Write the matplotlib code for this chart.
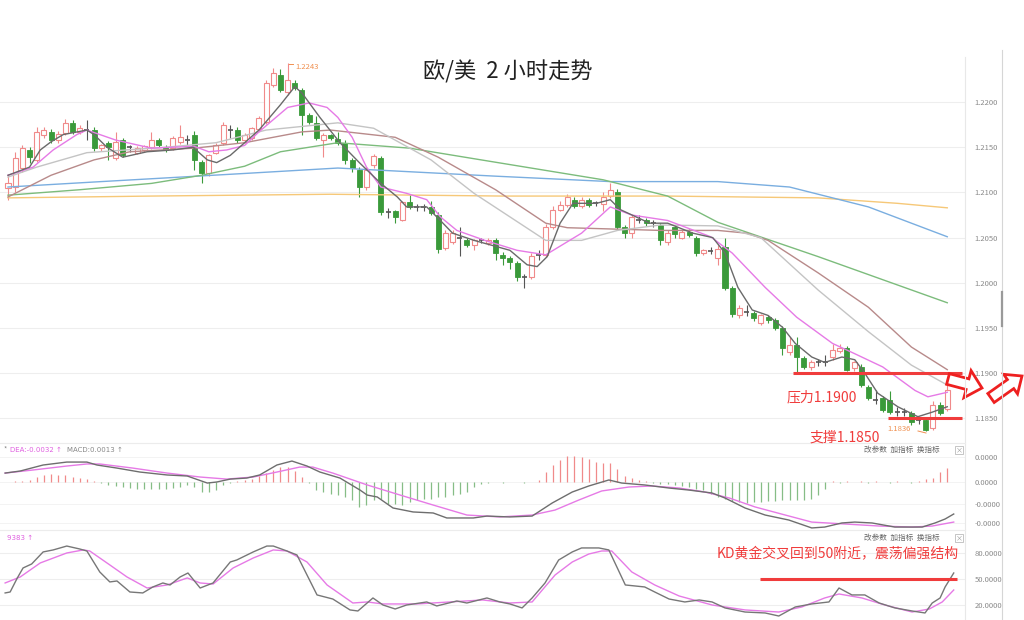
import matplotlib
matplotlib.use('Agg')
import matplotlib.pyplot as plt
import numpy as np
from matplotlib.patches import FancyArrow, Rectangle

plt.rcParams['font.family'] = ['Noto Sans CJK SC', 'DejaVu Sans']

# ---- candles (2h bars, left to right) ----
opens = [
    1.2105, 1.2106, 1.2127, 1.2147, 1.2136, 1.2164, 1.2167, 1.2158, 1.2166, 1.2177,
    1.2167, 1.2169, 1.2169, 1.2149, 1.2155, 1.2138, 1.2158, 1.2150, 1.2144, 1.2147,
    1.2150, 1.2158, 1.2150, 1.2149, 1.2156, 1.2158, 1.2163, 1.2134, 1.2121, 1.2144,
    1.2155, 1.2169, 1.2169, 1.2158, 1.2160, 1.2170, 1.2178, 1.2219, 1.2230, 1.2211,
    1.2221, 1.2213, 1.2186, 1.2177, 1.2158, 1.2163, 1.2159, 1.2155, 1.2136, 1.2125,
    1.2106, 1.2130, 1.2138, 1.2078, 1.2079, 1.2070, 1.2089, 1.2084, 1.2083, 1.2084,
    1.2075, 1.2039, 1.2045, 1.2050, 1.2047, 1.2042, 1.2047, 1.2044, 1.2047, 1.2031,
    1.2027, 1.2022, 1.2006, 1.2006, 1.2030, 1.2031, 1.2062, 1.2081, 1.2086, 1.2092,
    1.2085, 1.2092, 1.2088, 1.2087, 1.2096, 1.2101, 1.2062, 1.2055, 1.2070, 1.2069,
    1.2066, 1.2064, 1.2045, 1.2062, 1.2050, 1.2056, 1.2050, 1.2033, 1.2034, 1.2028,
    1.2040, 1.1994, 1.1964, 1.1968, 1.1967, 1.1956, 1.1962, 1.1959, 1.1950, 1.1923,
    1.1931, 1.1917, 1.1907, 1.1912, 1.1912, 1.1918, 1.1925, 1.1928, 1.1906, 1.1907,
    1.1885, 1.1870, 1.1873, 1.1870, 1.1857, 1.1857, 1.1856, 1.1848, 1.1848, 1.1839,
    1.1865, 1.1861]
highs = [
    1.2120, 1.2145, 1.2153, 1.2150, 1.2172, 1.2172, 1.2170, 1.2168, 1.2181, 1.2180,
    1.2175, 1.2180, 1.2172, 1.2154, 1.2157, 1.2167, 1.2160, 1.2153, 1.2151, 1.2153,
    1.2167, 1.2160, 1.2152, 1.2162, 1.2175, 1.2163, 1.2168, 1.2136, 1.2143, 1.2155,
    1.2178, 1.2175, 1.2172, 1.2166, 1.2172, 1.2185, 1.2224, 1.2238, 1.2236, 1.2243,
    1.2224, 1.2216, 1.2188, 1.2185, 1.2166, 1.2165, 1.2167, 1.2158, 1.2138, 1.2128,
    1.2128, 1.2143, 1.2140, 1.2083, 1.2081, 1.2091, 1.2098, 1.2087, 1.2087, 1.2090,
    1.2078, 1.2058, 1.2058, 1.2062, 1.2050, 1.2049, 1.2050, 1.2050, 1.2050, 1.2034,
    1.2030, 1.2024, 1.2010, 1.2033, 1.2036, 1.2065, 1.2085, 1.2090, 1.2098, 1.2095,
    1.2095, 1.2094, 1.2091, 1.2100, 1.2111, 1.2104, 1.2064, 1.2075, 1.2075, 1.2072,
    1.2069, 1.2066, 1.2058, 1.2064, 1.2059, 1.2060, 1.2052, 1.2038, 1.2040, 1.2042,
    1.2050, 1.1996, 1.1975, 1.1975, 1.1969, 1.1966, 1.1964, 1.1961, 1.1952, 1.1940,
    1.1940, 1.1919, 1.1915, 1.1916, 1.1920, 1.1932, 1.1932, 1.1930, 1.1914, 1.1910,
    1.1887, 1.1882, 1.1875, 1.1880, 1.1863, 1.1862, 1.1858, 1.1852, 1.1850, 1.1869,
    1.1868, 1.1895]
lows = [
    1.2092, 1.2100, 1.2123, 1.2133, 1.2134, 1.2160, 1.2155, 1.2155, 1.2164, 1.2165,
    1.2165, 1.2158, 1.2146, 1.2146, 1.2136, 1.2136, 1.2139, 1.2145, 1.2142, 1.2145,
    1.2148, 1.2150, 1.2145, 1.2147, 1.2154, 1.2153, 1.2125, 1.2110, 1.2118, 1.2142,
    1.2152, 1.2160, 1.2155, 1.2155, 1.2158, 1.2168, 1.2176, 1.2217, 1.2211, 1.2208,
    1.2213, 1.2163, 1.2176, 1.2158, 1.2139, 1.2158, 1.2152, 1.2132, 1.2123, 1.2095,
    1.2103, 1.2127, 1.2075, 1.2072, 1.2066, 1.2068, 1.2082, 1.2080, 1.2080, 1.2075,
    1.2033, 1.2036, 1.2043, 1.2030, 1.2040, 1.2036, 1.2044, 1.2042, 1.2025, 1.2020,
    1.2015, 1.2002, 1.1994, 1.2004, 1.2025, 1.2029, 1.2060, 1.2079, 1.2084, 1.2083,
    1.2083, 1.2084, 1.2085, 1.2080, 1.2094, 1.2060, 1.2050, 1.2050, 1.2066, 1.2063,
    1.2062, 1.2042, 1.2042, 1.2050, 1.2048, 1.2051, 1.2030, 1.2031, 1.2032, 1.2020,
    1.1992, 1.1962, 1.1961, 1.1963, 1.1958, 1.1953, 1.1956, 1.1948, 1.1920, 1.1920,
    1.1900, 1.1905, 1.1904, 1.1908, 1.1908, 1.1915, 1.1922, 1.1902, 1.1903, 1.1885,
    1.1870, 1.1866, 1.1857, 1.1855, 1.1853, 1.1853, 1.1843, 1.1844, 1.1836, 1.1837,
    1.1854, 1.1858]
closes = [
    1.2110, 1.2138, 1.2149, 1.2139, 1.2167, 1.2169, 1.2158, 1.2165, 1.2177, 1.2167,
    1.2171, 1.2170, 1.2149, 1.2152, 1.2150, 1.2156, 1.2141, 1.2150, 1.2149, 1.2151,
    1.2158, 1.2152, 1.2147, 1.2160, 1.2161, 1.2158, 1.2136, 1.2121, 1.2141, 1.2152,
    1.2175, 1.2169, 1.2158, 1.2163, 1.2171, 1.2182, 1.2221, 1.2232, 1.2213, 1.2224,
    1.2215, 1.2186, 1.2178, 1.2160, 1.2163, 1.2160, 1.2155, 1.2136, 1.2127, 1.2106,
    1.2125, 1.2140, 1.2078, 1.2078, 1.2073, 1.2089, 1.2084, 1.2084, 1.2085, 1.2077,
    1.2038, 1.2055, 1.2055, 1.2050, 1.2042, 1.2047, 1.2047, 1.2047, 1.2033, 1.2028,
    1.2023, 1.2006, 1.2006, 1.2030, 1.2031, 1.2062, 1.2081, 1.2086, 1.2095, 1.2085,
    1.2092, 1.2086, 1.2088, 1.2095, 1.2103, 1.2062, 1.2055, 1.2073, 1.2070, 1.2066,
    1.2066, 1.2047, 1.2055, 1.2054, 1.2056, 1.2053, 1.2033, 1.2036, 1.2036, 1.2038,
    1.1994, 1.1966, 1.1972, 1.1968, 1.1961, 1.1964, 1.1959, 1.1950, 1.1928, 1.1931,
    1.1918, 1.1907, 1.1912, 1.1912, 1.1913, 1.1926, 1.1928, 1.1904, 1.1912, 1.1887,
    1.1873, 1.1871, 1.1859, 1.1857, 1.1857, 1.1857, 1.1846, 1.1848, 1.1837, 1.1865,
    1.1856, 1.1881]

# ---- moving averages (bar index, price) ----
ma5_idx = [0, 3, 4.5, 6, 7.7, 11, 12, 13.8, 16, 19.4, 23, 25.8, 27.8, 29.1, 31, 33, 35, 38, 40, 41,
           43.5, 46.3, 49, 52, 54.3, 55.6, 58.4, 60.3, 62, 65, 70, 72.4, 73.8, 75.2, 77, 78.8, 82.1,
           84, 85.4, 89.5, 92, 95.5, 98.3, 100, 101.8, 103.8, 106, 108, 109.8, 112.1, 113.9, 116.3,
           118.1, 119.5, 121.3, 124.1, 126.9, 128.9, 131]
ma5_val = [1.2119, 1.2128, 1.2147, 1.2156, 1.2164, 1.2169, 1.2164, 1.2150, 1.2139, 1.2145,
           1.2147, 1.2150, 1.2136, 1.2133, 1.2141, 1.2155, 1.2169, 1.2197, 1.2217, 1.2210,
           1.2183, 1.2155, 1.2133, 1.2110, 1.2095, 1.2084, 1.2084, 1.2069, 1.2055, 1.2047,
           1.2036, 1.2020, 1.2018, 1.2029, 1.2066, 1.2088, 1.2088, 1.2092, 1.2081, 1.2066,
           1.2066, 1.2055, 1.2050, 1.2033, 1.1995, 1.1970, 1.1964, 1.1951, 1.1933, 1.1918,
           1.1912, 1.1918, 1.1915, 1.1900, 1.1878, 1.1863, 1.1852, 1.1857, 1.1863]
ma10_idx = [0, 3.5, 6.3, 9.6, 11, 15, 20, 26, 28, 30.5, 33, 35, 39, 42, 44.5, 46, 48, 50, 52, 55.6,
            58.4, 60.3, 62.6, 66.5, 71, 75, 80, 84, 87, 92, 98, 101, 105.6, 110, 115, 118, 122,
            126.5, 128.3, 131]
ma10_val = [1.2119, 1.2128, 1.2147, 1.2164, 1.2169, 1.2158, 1.2149, 1.2151, 1.2145, 1.2147,
            1.2152, 1.2167, 1.2194, 1.2199, 1.2194, 1.2183, 1.2161, 1.2128, 1.2106, 1.2099,
            1.2092, 1.2073, 1.2058, 1.2047, 1.2036, 1.2031, 1.2055, 1.2084, 1.2075, 1.2069,
            1.2051, 1.2033, 1.1995, 1.1962, 1.1933, 1.1922, 1.1907, 1.1881, 1.1874, 1.1879]
ma20_idx = [0, 4, 11, 22, 29, 36, 46, 51, 59, 65, 70, 75, 80, 85, 91, 99, 105, 113, 120, 126, 131]
ma20_val = [1.2117, 1.2128, 1.2144, 1.2150, 1.2155, 1.2169, 1.2177, 1.2171, 1.2136, 1.2099,
            1.2073, 1.2047, 1.2047, 1.2058, 1.2064, 1.2063, 1.2050, 1.1992, 1.1946, 1.1909, 1.1887]
ma30_idx = [0, 6, 12, 17, 26, 33, 41, 45, 54, 60, 68, 75, 78, 91, 99, 103, 106, 113, 120, 126, 131]
ma30_val = [1.2095, 1.2119, 1.2136, 1.2145, 1.2149, 1.2155, 1.2167, 1.2169, 1.2161, 1.2139,
            1.2103, 1.2066, 1.2061, 1.2058, 1.2058, 1.2055, 1.2047, 1.2011, 1.1973, 1.1929, 1.1904]
ma60_idx = [0, 10, 20, 27, 33, 38, 46, 56, 66, 83, 92, 99, 113, 131]
ma60_val = [1.2097, 1.2103, 1.2110, 1.2119, 1.2129, 1.2145, 1.2155, 1.2149, 1.2136, 1.2114,
            1.2096, 1.2067, 1.2029, 1.1978]
ma120_idx = [0, 13, 33, 46, 68, 84, 99, 109, 120, 131]
ma120_val = [1.2106, 1.2112, 1.2121, 1.2127, 1.2118, 1.2112, 1.2112, 1.2106, 1.2084, 1.2051]
ma250_idx = [0, 20, 45, 69, 92, 113, 124, 131]
ma250_val = [1.2094, 1.2096, 1.2098, 1.2096, 1.2096, 1.2094, 1.2088, 1.2083]

# ---- MACD (values in units of 0.0001) ----
macd_hist = [
    0.3, 0.5, 0.8, 1.3, 3.9, 5.7, 6.5, 5.7, 5.2, 3.9,
    3.4, 2.6, 0.5, -0.5, -2.6, -3.1, -3.9, -4.7, -5.2, -5.2,
    -5.2, -5.2, -5.2, -4.7, -3.9, -2.6, -3.9, -7.8, -7.8, -6.5,
    -2.0, -0.5, 0.5, 1.3, 2.6, 4.7, 7.0, 9.5, 11.7, 11.5,
    9.0, 4.0, -0.5, -6.5, -8.0, -9.0, -10.4, -11.7, -14.3, -19.5,
    -18.0, -14.3, -13.0, -17.0, -17.0, -18.0, -15.6, -14.3, -13.0, -13.0,
    -11.7, -11.7, -10.4, -9.0, -7.8, -3.9, -1.3, -0.5, 0.4, -0.4,
    0.4, 0.4, -0.4, 0.4, 1.3, 7.8, 13.0, 17.0, 20.0, 20.0,
    19.5, 17.7, 16.0, 15.0, 15.0, 10.0, 4.7, 3.1, 1.3, 0.5,
    -0.8, -1.3, -1.8, -2.6, -3.4, -3.9, -5.2, -6.5, -9.1, -11.7,
    -13.0, -15.1, -15.6, -16.4, -15.6, -15.6, -15.1, -15.1, -14.3, -14.3,
    -14.3, -13.8, -13.0, -10.4, -5.2, 0.5, -0.4, 0.5, 0.4, 0.5,
    -0.4, 0.5, 0.4, -0.4, 0.5, 0.4, -0.4, 0.5, 2.0, 3.0,
    8.0, 11.0]
dif_idx = [-0.4, 1.7, 4.9, 8.2, 11, 12.4, 15.2, 18.4, 22.2, 25, 27.8, 29.1, 31, 33.3, 35.1, 37.5,
           39.6, 41.7, 43.5, 46.3, 49.1, 50.1, 51.5, 53.7, 56.5, 59.3, 61.2, 64.9, 66.8, 70, 73.1,
           75.9, 78.7, 81, 83.8, 85.6, 88.8, 92.2, 95, 98.2, 100, 102.8, 105.6, 108.9, 112.1,
           113.9, 116.3, 118.1, 120.5, 123.7, 127.5, 129.3, 130.7, 131.9]
dif_val = [7.0, 8.6, 13.3, 15.6, 15.6, 13.3, 10.9, 7.8, 5.5, 4.7, -0.8, 0, 2.3, 3.1, 5.5, 13.3,
           16.4, 12.5, 7.8, 3.1, -6.3, -10.2, -11.7, -20.3, -23.4, -24.2, -28.1, -28.1, -26.6,
           -27.3, -26.6, -16.4, -7.8, -3.1, 1.6, -0.8, -2.3, -4.7, -6.3, -8.6, -12.5, -20.3,
           -25.8, -29.7, -35.9, -35.2, -32, -31.3, -32, -35.2, -35.2, -32, -28.9, -25]
dea_idx = [-0.4, 3.5, 8.2, 11, 12.8, 17.4, 22.2, 26.8, 30.5, 34.2, 37.5, 40.7, 42.5, 45.3, 50.1,
           54.7, 59.3, 64, 68.6, 73.1, 76.3, 79.6, 82.8, 86.6, 89.8, 93.6, 97.2, 100.6, 104.2,
           108.4, 112.1, 116.7, 121.5, 126.1, 128.9, 131.9]
dea_val = [7.0, 9.4, 12.5, 14.1, 14.1, 10.9, 7.0, 3.9, 2.3, 3.9, 7.8, 11.7, 11.7, 7.0, -2.3,
           -10.2, -18.0, -25.8, -27.3, -25.8, -21.9, -14.1, -7.0, -3.9, -3.1, -4.7, -7.8, -12.5,
           -19.5, -25.8, -31.3, -32.8, -34.4, -35.2, -34.4, -31.3]

# ---- KD ----
k_idx = [-0.4, 0.3, 1.3, 2.1, 3.3, 4.9, 6.3, 8.2, 10, 11, 12.8, 14.2, 15.2, 17, 18.8, 20.2, 21.6,
         22.6, 24, 25.1, 26.8, 28.6, 31, 31.9, 34.2, 36.1, 37, 38.9, 40.3, 43.1, 45.3, 47.7, 48.8,
         50.9, 52.3, 54, 55.6, 58.4, 59.8, 62.6, 64, 66.8, 68.6, 70, 71.7, 73.1, 74.9, 76.8, 78.7,
         80, 82.4, 83.8, 86.1, 88.8, 90.2, 92.2, 94.4, 96.4, 98.2, 100, 102.8, 105.6, 107.5,
         109.8, 112.1, 114.5, 115.9, 117.7, 119.5, 121.5, 123.7, 126.1, 127.9, 128.9, 130,
         130.7, 131.9]
k_val = [33.9, 35, 51.2, 62.7, 67.3, 81.2, 83.5, 88, 84.6, 82.3, 58.1, 46.6, 47.7, 35, 33.9, 40.8,
         45.4, 43.1, 52.3, 56.9, 39.6, 45.4, 69.6, 71.9, 81.2, 88, 88, 82.3, 77.7, 31.6, 26.9,
         14.3, 13.1, 28.1, 20, 15.4, 20, 23.5, 18.9, 24.6, 22.3, 28.1, 23.5, 21.2, 16.6, 28.1,
         45.4, 71.9, 81.2, 85.8, 85.8, 83.5, 43.1, 40.8, 35, 26.9, 23.5, 25.8, 23.5, 16.6, 11.9,
         10.8, 7.3, 17.7, 21.2, 23.5, 39.6, 31.6, 31.6, 22.3, 16.6, 13.1, 10.8, 22.3, 28.1,
         40.8, 56.9]
d_idx = [-0.4, 1.7, 4.5, 8.2, 10.5, 11.4, 14.2, 16.6, 19.4, 22.2, 25, 26.8, 28.6, 31.4, 34.2, 37,
         38.9, 41.7, 44.5, 48.1, 50.1, 52.3, 57, 61.6, 66.2, 70, 73.1, 76.3, 78.7, 81, 82.8, 84.2,
         87, 90.2, 93.6, 98.2, 102.8, 107.5, 110.7, 113.9, 115.9, 119.1, 122.3, 126.1, 128.5,
         130.3, 131.9]
d_val = [45.4, 52.3, 68.5, 80, 83.5, 82.3, 66.2, 52.3, 39.6, 43.1, 51.2, 45.4, 44.2, 62.7, 74.2,
         83.5, 82.3, 69.6, 43.1, 22.3, 23.5, 21.2, 21.2, 23.5, 25.8, 22.3, 23.5, 54.6, 69.6, 78.8,
         82.3, 82.3, 58.1, 43.1, 30.4, 20, 14.3, 11.9, 17.7, 28.1, 32.7, 28.1, 20, 11.9, 15.4,
         23.5, 37.3]

price_ticks = [1.2200, 1.2150, 1.2100, 1.2050, 1.2000, 1.1950, 1.1900, 1.1850]
macd_ticks = [0.00195, 0.0, -0.00172, -0.0032]
macd_labels = ['0.0000', '0.0000', '-0.0000', '-0.0000']
kd_ticks = [80, 50, 20]
kd_labels = ['80.0000', '50.0000', '20.0000']
resistance = 1.1900
support = 1.1850

UP = '#f08a8a'
DOWN = '#3a9a3a'
RED = '#f03c3c'
W, H = 1024, 620

fig = plt.figure(figsize=(W / 100, H / 100), dpi=100)


def px_axes(x0, y0, x1, y1):
    return fig.add_axes([x0 / W, 1 - y1 / H, (x1 - x0) / W, (y1 - y0) / H])


ax = px_axes(0, 57, 965, 442)
ax_m = px_axes(0, 443, 965, 530)
ax_k = px_axes(0, 530, 965, 618)
xlim = (-8 / 7.17, 957 / 7.17)

for a in (ax, ax_m, ax_k):
    a.set_xlim(*xlim)
    a.set_xticks([])
    for s in a.spines.values():
        s.set_visible(False)
    a.yaxis.tick_right()
    a.tick_params(axis='y', length=0, pad=7, labelsize=5.5, labelcolor='#8a8a8a')
    a.set_axisbelow(True)

# main price panel
ax.set_ylim(1.18240, 1.22498)
ax.set_yticks(price_ticks)
ax.set_yticklabels(['%.4f' % p for p in price_ticks])
ax.grid(axis='y', color='#eeeeee', lw=0.8)

bw = 0.7
for i in range(len(closes)):
    o, h, l, c = opens[i], highs[i], lows[i], closes[i]
    if abs(c - o) < 0.00025:
        ax.vlines(i, l, h, color='#555555', lw=0.8, zorder=2)
        ax.hlines((o + c) / 2, i - bw / 2, i + bw / 2, color='#555555', lw=1.2, zorder=2)
    elif c > o:
        ax.vlines(i, l, h, color=UP, lw=0.8, zorder=2)
        ax.add_patch(Rectangle((i - bw / 2, o), bw, c - o, facecolor='white',
                               edgecolor=UP, lw=0.8, zorder=2.5))
    else:
        ax.vlines(i, l, h, color=DOWN, lw=0.8, zorder=2)
        ax.add_patch(Rectangle((i - bw / 2, c), bw, o - c, facecolor=DOWN,
                               edgecolor=DOWN, lw=0.6, zorder=2.5))

ax.plot(ma250_idx, ma250_val, color='#f6c878', lw=1.0, zorder=3)
ax.plot(ma120_idx, ma120_val, color='#7aaee0', lw=1.0, zorder=3)
ax.plot(ma60_idx, ma60_val, color='#7cbc7c', lw=1.0, zorder=3)
ax.plot(ma30_idx, ma30_val, color='#b88a8a', lw=1.0, zorder=3)
ax.plot(ma20_idx, ma20_val, color='#c4c4c4', lw=1.0, zorder=3)
ax.plot(ma10_idx, ma10_val, color='#e67ae6', lw=1.0, zorder=3)
ax.plot(ma5_idx, ma5_val, color='#6a6a6a', lw=1.0, zorder=3)

ax.hlines(resistance, 109.5, 133.1, color=RED, lw=2.2, zorder=4)
ax.hlines(support, 122.7, 133.1, color=RED, lw=2.2, zorder=4)

# MACD panel
ax_m.set_ylim(-0.00375, 0.00305)
ax_m.set_yticks(macd_ticks)
ax_m.set_yticklabels(macd_labels)
ax_m.grid(axis='y', color='#f3f3f3', lw=0.7)
hist = np.array(macd_hist) * 1e-4
ax_m.vlines(np.arange(len(hist)), 0, hist,
            colors=[UP if v > 0 else '#86bd86' for v in hist], lw=0.9)
ax_m.plot(dea_idx, np.array(dea_val) * 1e-4, color='#e67ae6', lw=1.0)
ax_m.plot(dif_idx, np.array(dif_val) * 1e-4, color='#6e6e6e', lw=1.0)

# KD panel
ax_k.set_ylim(5.0, 106.5)
ax_k.set_yticks(kd_ticks)
ax_k.set_yticklabels(kd_labels)
ax_k.grid(axis='y', color='#eeeeee', lw=0.8)
ax_k.plot(d_idx, d_val, color='#e67ae6', lw=1.0)
ax_k.plot(k_idx, k_val, color='#777777', lw=1.0)
ax_k.hlines(50, 104.9, 132.4, color=RED, lw=2.2)

# overlay in pixel space for frame lines, labels and arrows
ov = fig.add_axes([0, 0, 1, 1])
ov.set_xlim(0, W)
ov.set_ylim(H, 0)
ov.axis('off')

ov.plot([965, 965], [57, 620], color='#e8e8e8', lw=0.8)
ov.plot([0, 965], [443, 443], color='#ececec', lw=0.8)
ov.plot([0, 965], [530, 530], color='#ececec', lw=0.8)
ov.plot([1002, 1002], [50, 620], color='#d6d6d6', lw=0.8)
ov.plot([1002, 1002], [292, 326], color='#9a9a9a', lw=1.6)

ov.text(508, 72, '欧/美  2 小时走势', fontsize=16, color='#222222', ha='center', va='center')

ov.plot([289, 293], [64, 64], color='#f09050', lw=0.7)
ov.text(295, 67, '1.2243', fontsize=5.5, color='#f09050', va='center')
ov.text(887, 429, '1.1836', fontsize=5.5, color='#f09050', va='center')
ov.plot([918, 926], [431, 433], color='#f09050', lw=0.7)

ov.text(787, 397, '压力1.1900', fontsize=10, color=RED, va='center')
ov.text(810, 438, '支撑1.1850', fontsize=10, color=RED, va='center')
ov.text(717, 554, 'KD黄金交叉回到50附近，震荡偏强结构', fontsize=10, color=RED, va='center')

ov.text(4, 450, '*', fontsize=5, color='#888888', va='center')
ov.text(10, 450, 'DEA:-0.0032 ↑', fontsize=5, color='#e060e0', va='center', family='DejaVu Sans')
ov.text(67, 450, 'MACD:0.0013 ↑', fontsize=5, color='#888888', va='center', family='DejaVu Sans')
ov.text(7, 538, '9383 ↑', fontsize=5, color='#e060e0', va='center', family='DejaVu Sans')
for yy in (450, 538):
    ov.text(864, yy, '改参数  加指标  换指标', fontsize=5.5, color='#666666', va='center')
    ov.add_patch(Rectangle((955, yy - 4), 8, 8, facecolor='white', edgecolor='#bbbbbb', lw=0.6))
    ov.text(959, yy, '×', fontsize=5, color='#999999', ha='center', va='center')

ov.add_patch(FancyArrow(948, 379, 34, 9, width=11, head_width=28, head_length=15,
                        length_includes_head=True, facecolor='white', edgecolor='#ee2020', lw=2))
ov.add_patch(FancyArrow(991, 398, 31, -22, width=11, head_width=24, head_length=14,
                        length_includes_head=True, facecolor='white', edgecolor='#ee2020', lw=2))

fig.savefig('out.png', dpi=100)
